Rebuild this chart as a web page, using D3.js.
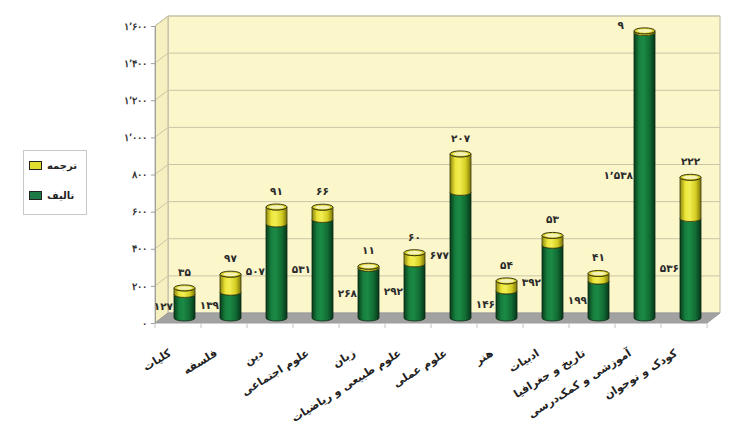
<!DOCTYPE html>
<html>
<head>
<meta charset="utf-8">
<script src="https://cdn.jsdelivr.net/npm/d3@7"></script>
<style>
  html, body { margin: 0; padding: 0; background: #ffffff; }
  svg { display: block; font-family: "DejaVu Sans", sans-serif; }
</style>
</head>
<body>
<svg id="chart" width="732" height="436"></svg>
<script>
// ---- data ----
const categories = ["کلیات", "فلسفه", "دین", "علوم اجتماعی", "زبان", "علوم طبیعی و ریاضیات",
  "علوم عملی", "هنر", "ادبیات", "تاریخ و جغرافیا", "آموزشی و کمک‌درسی", "کودک و نوجوان"];
const authored   = [127, 139, 507, 531, 268, 292, 677, 146, 392, 199, 1538, 536]; // تالیف
const translated = [35, 97, 91, 66, 11, 60, 207, 54, 53, 41, 9, 222];              // ترجمه
const seriesNames = ["ترجمه", "تالیف"];
const yTicks = [0, 200, 400, 600, 800, 1000, 1200, 1400, 1600];

// ---- helpers ----
const fa = s => String(s).replace(/\d/g, d => "۰۱۲۳۴۵۶۷۸۹"[+d]).replace(/,/g, "٬");
const fmt = v => fa(d3.format(",")(v));

const svg = d3.select("#chart");
const left = 155, right = 707, dx = 13, dy = -10;
const x = d3.scaleBand().domain(categories).range([left, right]).padding(0);
const y = d3.scaleLinear().domain([0, 1600]).range([323, 26]);
const bw = x.bandwidth();
const r = 10.5, ry = 3;

// gradients
const defs = svg.append("defs");
function grad(id, stops) {
  const g = defs.append("linearGradient").attr("id", id).attr("x1", "0%").attr("x2", "100%").attr("y1", "0%").attr("y2", "0%");
  stops.forEach(([o, c]) => g.append("stop").attr("offset", o).attr("stop-color", c));
}
grad("gGreen", [["0%", "#083d1c"], ["25%", "#17803f"], ["45%", "#1b8a45"], ["75%", "#116a33"], ["100%", "#06361a"]]);
grad("gYellow", [["0%", "#8c870c"], ["25%", "#ece63a"], ["45%", "#f2ee52"], ["75%", "#d4cd22"], ["100%", "#7a750a"]]);

// walls
const y0 = y(0), yT = y(1600);
svg.append("polygon")
  .attr("points", [[left + dx, yT + dy], [right + dx, yT + dy], [right + dx, y0 + dy], [left + dx, y0 + dy]].join(" "))
  .attr("fill", "#fcf7cb").attr("stroke", "#b9b7a6").attr("stroke-width", 1);
svg.append("polygon")
  .attr("points", [[left, y0], [left, yT], [left + dx, yT + dy], [left + dx, y0 + dy]].join(" "))
  .attr("fill", "#f6f0c0").attr("stroke", "#b9b7a6").attr("stroke-width", 1);

// gridlines
const grid = svg.append("g");
yTicks.filter(t => t > 0).forEach(t => {
  grid.append("line").attr("x1", left + dx).attr("x2", right + dx).attr("y1", y(t) + dy).attr("y2", y(t) + dy)
    .attr("stroke", "#c9c5a6").attr("stroke-width", 1);
  grid.append("line").attr("x1", left).attr("x2", left + dx).attr("y1", y(t)).attr("y2", y(t) + dy)
    .attr("stroke", "#c9c5a6").attr("stroke-width", 1);
});

// floor
svg.append("polygon")
  .attr("points", [[left, y0], [right, y0], [right + dx, y0 + dy], [left + dx, y0 + dy]].join(" "))
  .attr("fill", "#a3a2a2").attr("stroke", "#9a9a9a");
svg.append("line").attr("x1", left).attr("x2", right).attr("y1", y0 + 0.5).attr("y2", y0 + 0.5)
  .attr("stroke", "#cfcfcf").attr("stroke-width", 1);

// y axis
const yAxis = svg.append("g").attr("transform", `translate(${left},0)`)
  .call(d3.axisLeft(y).tickValues(yTicks).tickFormat(fmt).tickSize(4).tickPadding(4));
yAxis.select(".domain").attr("stroke", "#9e9e9e");
yAxis.selectAll(".tick line").attr("stroke", "#9e9e9e");
yAxis.selectAll("text").attr("font-size", 10).attr("font-weight", "bold").attr("fill", "#333");

// x axis ticks
const xt = svg.append("g");
categories.concat([null]).forEach((c, i) => {
  const xx = c === null ? right : x(c);
  xt.append("line").attr("x1", xx).attr("x2", xx).attr("y1", y0).attr("y2", y0 + 5)
    .attr("stroke", "#c4c4c4");
});

// bars (cylinders)
function segPath(cx, yt, yb) {
  return `M${cx - r},${yt} L${cx - r},${yb} A${r},${ry} 0 0 0 ${cx + r},${yb} L${cx + r},${yt} A${r},${ry} 0 0 1 ${cx - r},${yt} Z`;
}
const bars = svg.append("g");
categories.forEach((c, i) => {
  const cx = x(c) + bw / 2 + dx / 2;
  const off = dy / 2;
  const a = authored[i], t = translated[i];
  const yb = y(0) + off, ya = y(a) + off, yt = y(a + t) + off;
  bars.append("path").attr("d", segPath(cx, ya, yb)).attr("fill", "url(#gGreen)")
    .attr("stroke", "#0b2a12").attr("stroke-width", 0.8);
  bars.append("path").attr("d", segPath(cx, yt, ya)).attr("fill", "url(#gYellow)")
    .attr("stroke", "#3a3808").attr("stroke-width", 0.8);
  // top cap
  bars.append("ellipse").attr("cx", cx).attr("cy", yt).attr("rx", r).attr("ry", ry)
    .attr("fill", "#d9d22a").attr("stroke", "#2d2b07").attr("stroke-width", 0.9);
  bars.append("ellipse").attr("cx", cx).attr("cy", yt).attr("rx", r - 3).attr("ry", ry - 1.2)
    .attr("fill", "#f5f2b8");

  // labels
  bars.append("text").attr("x", cx - r - 1).attr("y", (ya + yb) / 2 + 4)
    .attr("text-anchor", "end").attr("font-size", 10.5).attr("font-weight", "bold").attr("fill", "#2a2a2a")
    .text(fmt(a));
  let lx = cx, ly = yt - 12, anchor = "middle";
  if (ly < yT + dy + 4) { lx = cx - r - 10; ly = yt - 2; anchor = "end"; }
  bars.append("text").attr("x", lx).attr("y", ly)
    .attr("text-anchor", anchor).attr("font-size", 10.5).attr("font-weight", "bold").attr("fill", "#2a2a2a")
    .text(fmt(t));
});

// x labels
const xl = svg.append("g");
categories.forEach(c => {
  const ax = x(c) + bw / 2 - 6, ay = 355;
  xl.append("text").attr("transform", `translate(${ax},${ay}) rotate(-32)`)
    .attr("text-anchor", "end").attr("font-size", 11).attr("font-weight", "bold").attr("fill", "#222")
    .text(c);
});

// legend
const lg = svg.append("g");
lg.append("rect").attr("x", 23.5).attr("y", 150.5).attr("width", 63).attr("height", 64)
  .attr("fill", "#ffffff").attr("stroke", "#c8c8c8");
const legendFill = ["#e2dc2e", "#1b7a45"];
seriesNames.forEach((n, i) => {
  const yy = 161 + i * 30;
  lg.append("rect").attr("x", 29.5).attr("y", yy + 0.5).attr("width", 12).attr("height", 8)
    .attr("fill", legendFill[i]).attr("stroke", "#222");
  lg.append("text").attr("x", 47).attr("y", yy + 8).attr("font-size", 10).attr("font-weight", "bold")
    .attr("fill", "#222").text(n);
});
</script>
</body>
</html>
